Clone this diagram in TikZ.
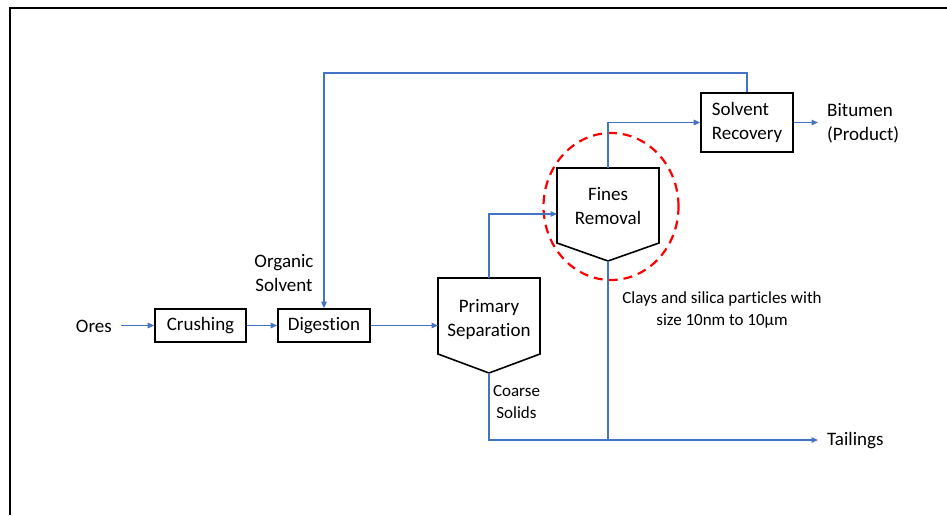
\documentclass[tikz,border=0pt]{standalone}
\usepackage{fontspec}
\setmainfont[Ligatures=NoCommon]{Carlito}
\usetikzlibrary{arrows.meta,calc}
\definecolor{flow}{HTML}{4472C4}
\tikzset{
  box/.style={draw=black,line width=1.6pt,inner sep=0pt,align=center,font=\fontsize{19}{24}\selectfont},
  txt/.style={inner sep=0pt,align=center,font=\fontsize{19}{24}\selectfont},
  small/.style={inner sep=0pt,align=center,font=\fontsize{17}{22}\selectfont},
  lbl/.style={inner ysep=0pt,inner xsep=9pt,align=left,font=\fontsize{19}{24}\selectfont},
  pent/.style={draw=black,line width=1.6pt,line join=miter},
  flowline/.style={draw=flow,line width=1.3pt},
  flowarrow/.style={flowline,-{Triangle[length=6.5pt,width=5.5pt]}},
  frame/.style={draw=black,line width=2.4pt}
}
\begin{document}
\begin{tikzpicture}[x=1pt,y=-1pt]
\useasboundingbox (0,0) rectangle (947,515);
% frame
\draw[frame] (10,515) -- (10,8) -- (947,8);

% boxes
\node[box,minimum width=91pt,minimum height=33pt] (crush) at (200.5,325.5) {Crushing};
\node[box,minimum width=92pt,minimum height=33pt] (dig) at (324,325.5) {Digestion};
\node[box,minimum width=92pt,minimum height=59pt,align=left] (sr) at (747,122.5) {Solvent\\Recovery};

% primary separation pentagon
\draw[pent] (438,278) -- (540,278) -- (540,354) -- (489,373) -- (438,354) -- cycle;
\coordinate (ps-top) at (489,278);
\coordinate (ps-in) at (438,325.5);
\coordinate (ps-bot) at (489,373);
\node[txt] (ps) at (489,319) {Primary\\Separation};

% fines removal pentagon
\draw[pent] (557,168) -- (659,168) -- (659,243) -- (608,261) -- (557,243) -- cycle;
\coordinate (fr-top) at (608,168);
\coordinate (fr-in) at (557,214);
\coordinate (fr-bot) at (608,261);
\node[txt] (fr) at (608,206.5) {Fines\\Removal};

% highlight
\draw[red,line width=2.2pt,dash pattern=on 9pt off 6pt] (611,206.5) ellipse [x radius=67.5pt,y radius=73.5pt];

% labels
\node[lbl,anchor=east] (ores) at (121,326.5) {Ores};
\node[lbl,anchor=west,align=left] (bit) at (818,123.5) {Bitumen\\(Product)};
\node[lbl,anchor=west] (tail) at (818,441) {Tailings};
\node[txt] (org) at (284,273) {Organic\\Solvent};
\node[small,font=\fontsize{17}{21.5}\selectfont] (coarse) at (516.5,402) {Coarse\\Solids};
\node[small] (clays) at (722,310) {Clays and silica particles with\\size 10nm to 10µm};
\coordinate (rectop) at (747,73);
\coordinate (tail-in) at (818,440);

% connectors
\draw[flowarrow] (crush.west -| ores.east) -- (crush.west);
\draw[flowarrow] (crush.east) -- (dig.west);
\draw[flowarrow] (dig.east) -- (ps-in);
\draw[flowarrow] (ps-top) |- (fr-in);
\draw[flowarrow] (fr-top) |- (sr.west);
\draw[flowarrow] (sr.east) -- (sr.east -| bit.west);
\draw[flowarrow] (sr.north) -- (rectop) -| (dig.north);
\draw[flowarrow] (ps-bot) |- (tail-in);
\draw[flowline] (fr-bot) -- (fr-bot |- tail-in);
\end{tikzpicture}
\end{document}
